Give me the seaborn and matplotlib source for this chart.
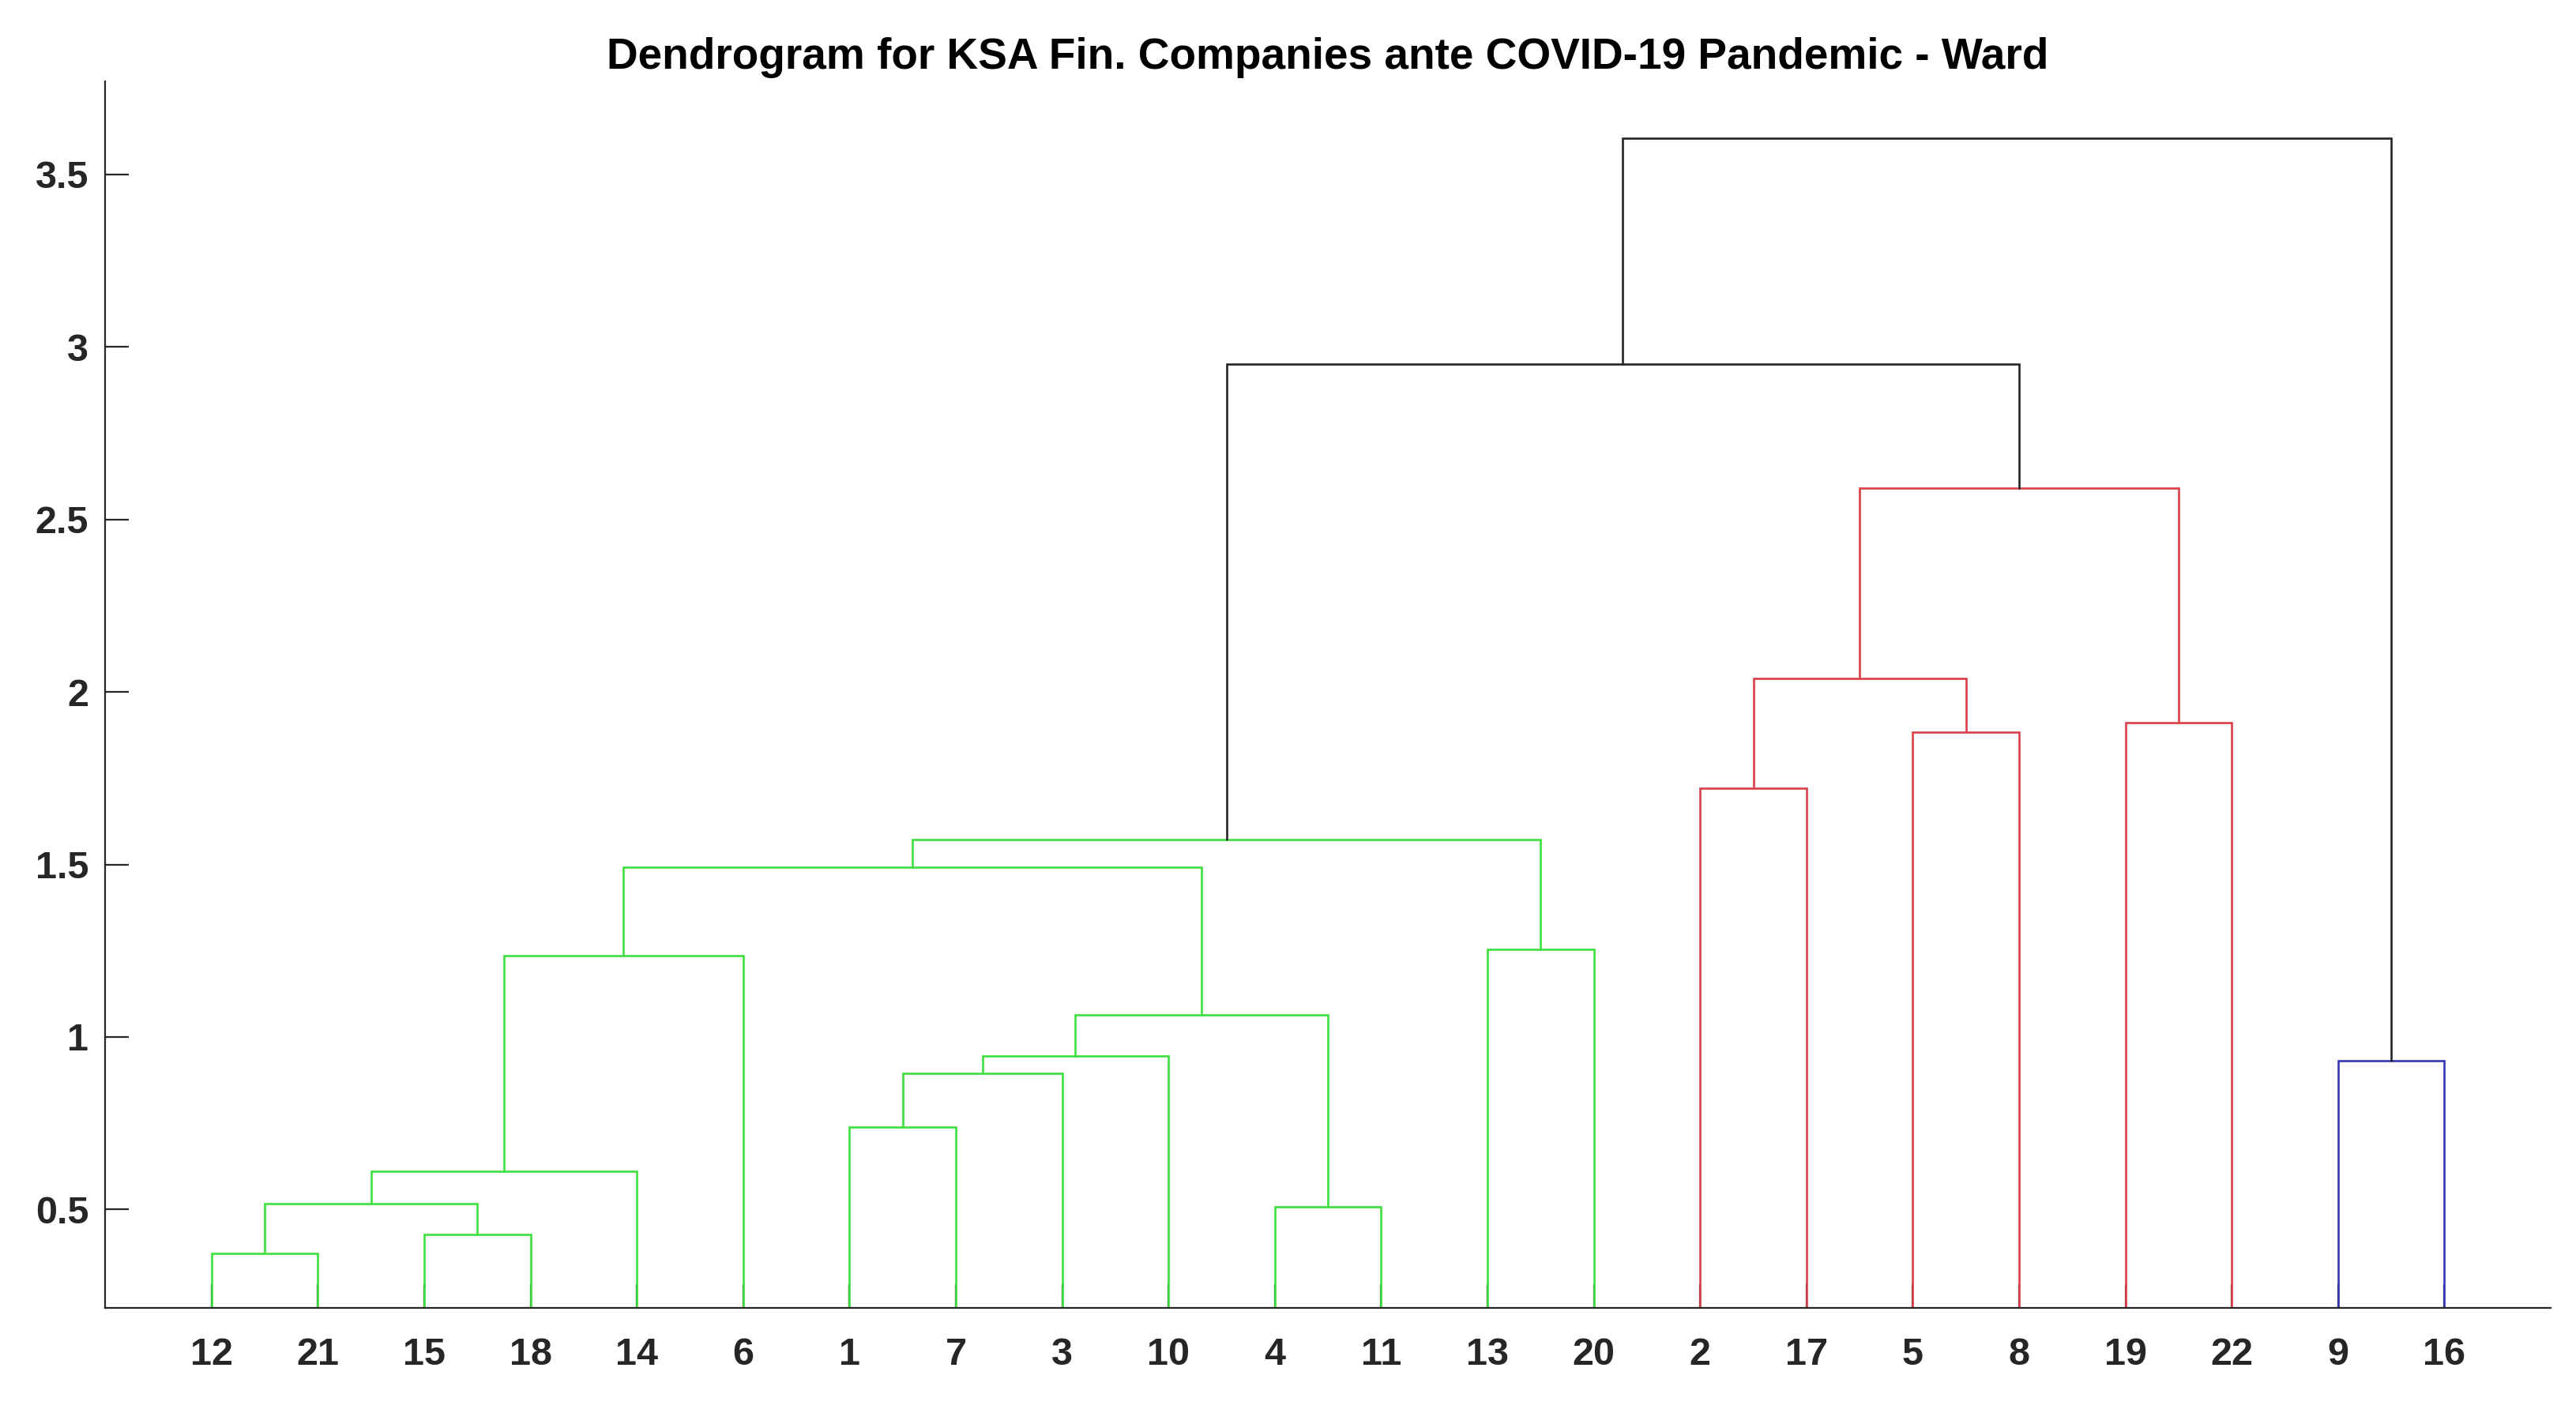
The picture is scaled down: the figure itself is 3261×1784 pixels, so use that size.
import matplotlib
matplotlib.use("Agg")
import matplotlib.pyplot as plt
import seaborn as sns

# leaf order along the x axis (company ids)
leaf_order = [12, 21, 15, 18, 14, 6, 1, 7, 3, 10, 4, 11, 13, 20, 2, 17, 5, 8, 19, 22, 9, 16]

# linkage: each merge joins node a and node b at a height.
# ints are leaves, "cN" is the cluster made by merge N
merge_a = [12, 15, "c0", "c2", "c3", 1, "c5", "c6", 4, "c7", "c4", 13, "c10",
           2, 5, "c13", 19, "c15", "c12", 9, "c18"]
merge_b = [21, 18, "c1", 14, 6, 7, 3, 10, 11, "c8", "c9", 20, "c11",
           17, 8, "c14", 22, "c16", "c17", 16, "c19"]
merge_height = [0.374, 0.427, 0.518, 0.612, 1.236, 0.740, 0.894, 0.946, 0.507, 1.065,
                1.493, 1.255, 1.573, 1.721, 1.883, 2.038, 1.910, 2.591, 2.950, 0.932, 3.604]
merge_group = ["g", "g", "g", "g", "g", "g", "g", "g", "g", "g", "g", "g", "g",
               "r", "r", "r", "r", "r", "k", "b", "k"]

group_colors = {"g": "#3ee03e", "r": "#d9404a", "b": "#3535b8", "k": "#262626"}

yticks = [0.5, 1, 1.5, 2, 2.5, 3, 3.5]
ytick_labels = ["0.5", "1", "1.5", "2", "2.5", "3", "3.5"]

title = "Dendrogram for KSA Fin. Companies ante COVID-19 Pandemic - Ward"

sns.set_style("white")
plt.rcParams["font.family"] = ["Liberation Sans", "DejaVu Sans"]

fig = plt.figure(figsize=(16.31, 8.92), dpi=200)
ax = fig.add_axes([0.0408, 0.0715, 0.9491, 0.871])

# positions and heights of every node
pos = {leaf: i + 1 for i, leaf in enumerate(leaf_order)}
hgt = {leaf: 0.0 for leaf in leaf_order}

for i, (a, b, h, g) in enumerate(zip(merge_a, merge_b, merge_height, merge_group)):
    xa, xb = pos[a], pos[b]
    ax.plot([xa, xa, xb, xb], [hgt[a], h, h, hgt[b]],
            color=group_colors[g], lw=0.95, solid_joinstyle="miter", zorder=2)
    pos[f"c{i}"] = (xa + xb) / 2
    hgt[f"c{i}"] = h

ax.set_xlim(0, 23)
ax.set_ylim(0.214, 3.77)
ax.set_xticks(range(1, len(leaf_order) + 1))
ax.set_xticklabels([str(v) for v in leaf_order])
ax.set_yticks(yticks)
ax.set_yticklabels(ytick_labels)

for s in ["top", "right"]:
    ax.spines[s].set_visible(False)
for s in ["left", "bottom"]:
    ax.spines[s].set_color("#262626")
    ax.spines[s].set_linewidth(0.8)

ax.tick_params(axis="both", direction="in", length=10.8, width=0.8, color="#262626",
               labelsize=17.5, labelcolor="#262626", left=True, bottom=True)
ax.tick_params(axis="x", pad=13)
ax.tick_params(axis="y", pad=7.5)
for lab in ax.get_xticklabels() + ax.get_yticklabels():
    lab.set_fontweight("bold")

ax.set_title(title, fontsize=19.8, fontweight="bold", pad=5.6, color="black")

fig.savefig("out.png", dpi=200)
plt.close(fig)
